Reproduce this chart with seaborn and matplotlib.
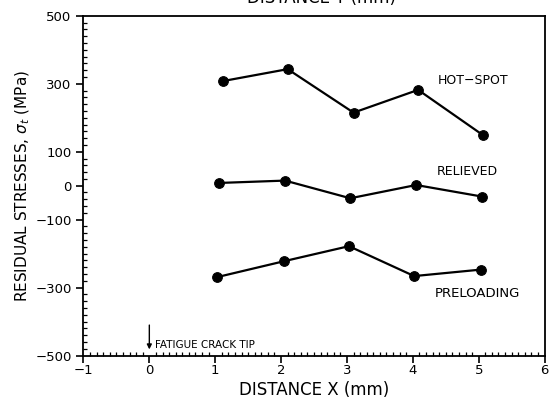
import pandas as pd
import numpy as np
import matplotlib
matplotlib.use("Agg")
import matplotlib.pyplot as plt
from matplotlib.ticker import MultipleLocator, FixedLocator
import seaborn as sns

# Data
distance_hot = [1.12, 2.1, 3.1, 4.08, 5.07]
stress_hot = [308, 343, 215, 282, 148]

distance_rel = [1.05, 2.06, 3.05, 4.05, 5.05]
stress_rel = [8, 15, -37, 2, -32]

distance_pre = [1.03, 2.05, 3.03, 4.02, 5.03]
stress_pre = [-269, -222, -178, -266, -247]

series_names = ["HOT-SPOT", "RELIEVED", "PRELOADING"]
x_ticks = [-1, 0, 1, 2, 3, 4, 5, 6]
y_ticks = [500, 300, 100, 0, -100, -300, -500]


def build_frame():
    parts = []
    for name, xs, ys in zip(series_names,
                            [distance_hot, distance_rel, distance_pre],
                            [stress_hot, stress_rel, stress_pre]):
        parts.append(pd.DataFrame({"x": xs, "stress": ys, "series": name}))
    return pd.concat(parts, ignore_index=True)


def main():
    sns.set_style("ticks")
    plt.rcParams["font.family"] = ["DejaVu Sans"]
    plt.rcParams["mathtext.fontset"] = "dejavusans"
    plt.rcParams["text.color"] = "black"
    plt.rcParams["axes.labelcolor"] = "black"

    df = build_frame()

    fig = plt.figure(figsize=(5.49, 4.05), dpi=100)
    ax = fig.add_axes([0.152, 0.122, 0.840, 0.839])

    sns.lineplot(data=df, x="x", y="stress", units="series", estimator=None,
                 color="black", linewidth=1.6, marker="o", markersize=7,
                 markeredgecolor="black", markerfacecolor="black",
                 sort=False, ax=ax, legend=False)

    ax.set_xlim(-1, 6)
    ax.set_ylim(-500, 500)
    ax.xaxis.set_major_locator(FixedLocator(x_ticks))
    ax.yaxis.set_major_locator(FixedLocator(y_ticks))
    ax.xaxis.set_minor_locator(MultipleLocator(0.1))
    ax.yaxis.set_minor_locator(MultipleLocator(20))
    ax.set_xticklabels([str(t).replace("-", "\u2212") for t in x_ticks])
    ax.set_yticklabels([str(t).replace("-", "\u2212") for t in y_ticks])

    ax.tick_params(which="major", direction="out", length=5, width=1.2,
                   labelsize=9.5, colors="black")
    ax.tick_params(which="minor", direction="in", length=3, width=0.9,
                   colors="black")
    ax.tick_params(axis="x", pad=1)
    for side in ["left", "bottom", "right", "top"]:
        ax.spines[side].set_visible(True)
        ax.spines[side].set_linewidth(1.3)
        ax.spines[side].set_color("black")

    ax.set_xlabel("DISTANCE X (mm)", fontsize=12, labelpad=3)
    ax.set_ylabel("RESIDUAL STRESSES, $\\sigma_t$ (MPa)", fontsize=11, labelpad=2)

    # series labels
    ax.text(4.38, 311, "HOT\u2212SPOT", fontsize=9, va="center")
    ax.text(4.37, 43, "RELIEVED", fontsize=9, va="center")
    ax.text(4.34, -317, "PRELOADING", fontsize=9.5, va="center")

    # crack tip marker
    ax.annotate("", xy=(0, -490), xytext=(0, -402),
                arrowprops=dict(arrowstyle="-|>", color="black", lw=1.0,
                                mutation_scale=7))
    ax.text(0.09, -470, "FATIGUE CRACK TIP", fontsize=7.5, va="center")

    # top axis title, cut off by the scan
    fig.text(0.585, 1.005, "DISTANCE Y (mm)", fontsize=12, ha="center", va="center")

    fig.savefig("out.png", dpi=100, facecolor="white")


if __name__ == "__main__":
    main()
